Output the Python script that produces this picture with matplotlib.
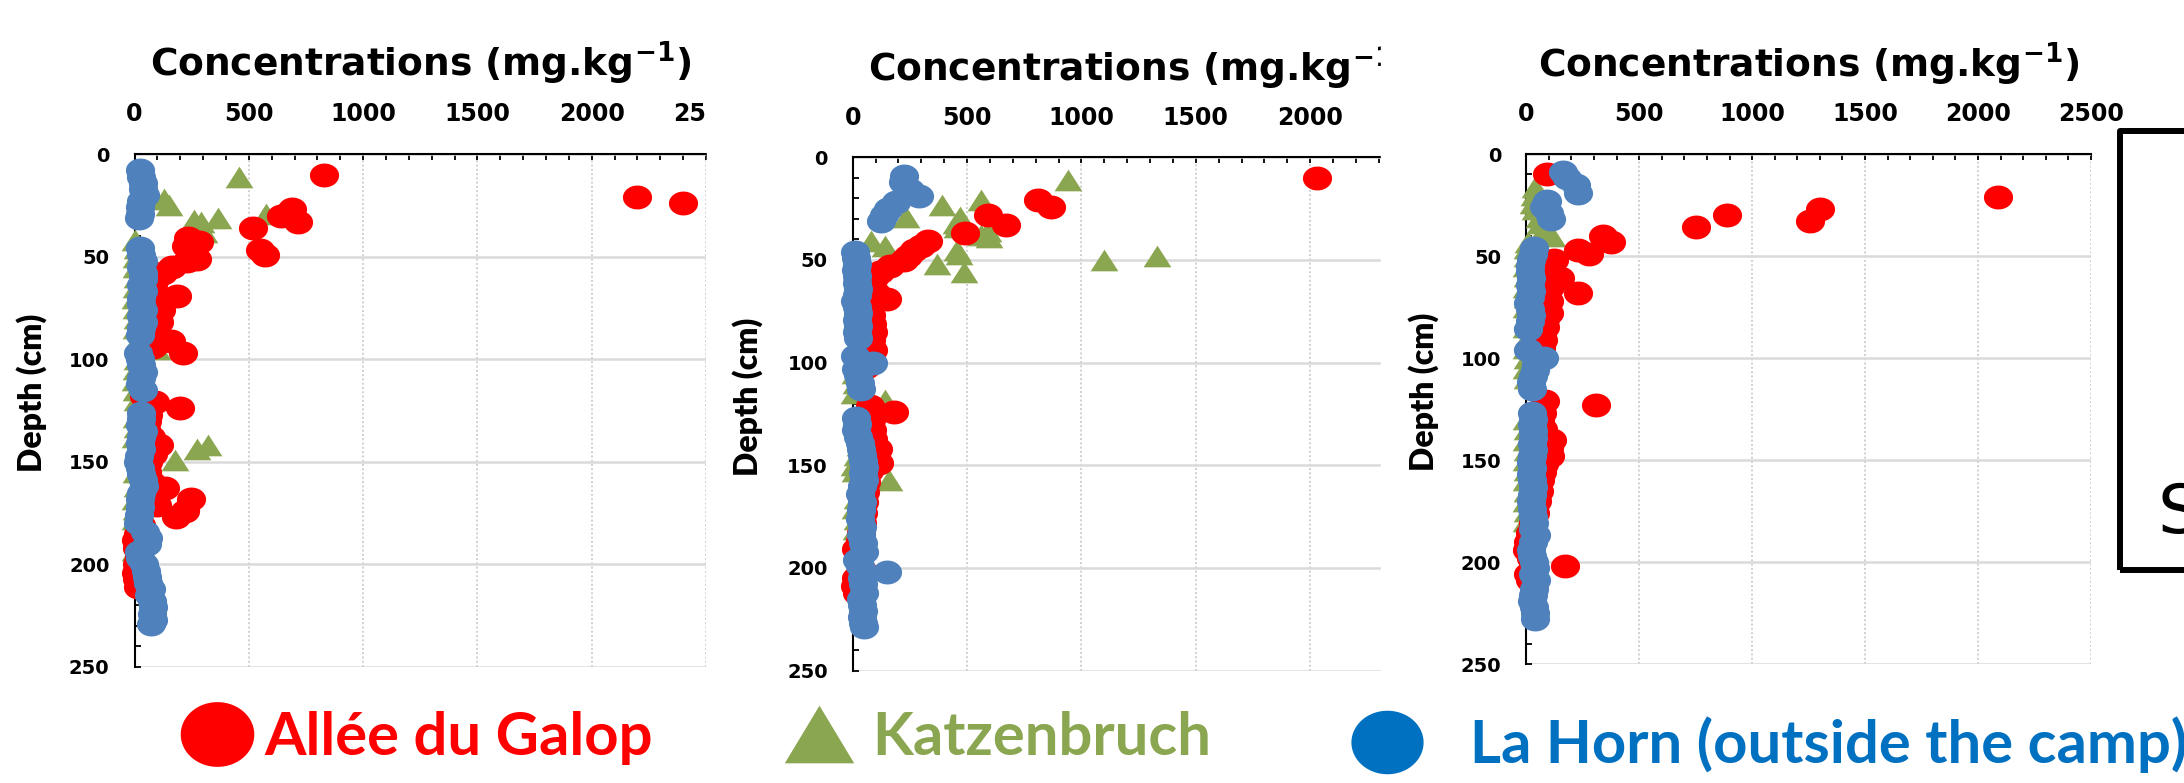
import numpy as np
import matplotlib
matplotlib.use("Agg")
import matplotlib.pyplot as plt
from matplotlib.path import Path
from matplotlib.lines import Line2D
from matplotlib.patches import Rectangle
from matplotlib.ticker import MultipleLocator

# ---- donnees (concentration mg/kg, profondeur cm) ----
# panneau 1
p1_galop_depth = [10, 21, 24, 27, 30, 33, 36, 41, 43, 45, 47, 49, 51, 52, 55, 58, 61, 64, 69, 72, 76, 79, 82, 85, 88,
                  91, 94, 97, 118, 121, 124, 127, 130, 134, 138, 142, 146, 150, 155, 160, 163, 168, 171, 174, 177,
                  181, 185, 188, 192, 196, 200, 204, 207, 211]
p1_galop_conc = [830, 2200, 2400, 690, 640, 715, 520, 235, 280, 225, 550, 570, 275, 230, 165, 125, 90, 80, 185, 80,
                 115, 95, 105, 70, 60, 160, 80, 210, 40, 90, 200, 60, 55, 50, 70, 105, 80, 60, 55, 70, 135, 245, 100,
                 220, 180, 30, 15, 5, 10, 20, 10, 5, 10, 15]
p1_katz_depth = [11, 22, 25, 29, 31, 32, 33, 38, 42, 46, 50, 55, 60, 65, 70, 75, 80, 85, 90, 95, 100, 105, 110, 115,
                 120, 128, 133, 138, 142, 144, 148, 149, 155, 162, 168, 173, 178, 183, 188, 193, 197]
p1_katz_conc = [455, 130, 150, 575, 365, 260, 290, 305, 0, 10, 5, 5, 10, 5, 0, 5, 10, 5, 15, 100, 10, 5, 0, 5,
                10, 5, 10, 0, 320, 275, 50, 175, 5, 10, 0, 5, 0, 5, 10, 0, 5]
p1_horn_depth = [8, 11, 14, 17, 20, 23, 26, 29, 31, 46, 49, 52, 55, 58, 61, 64, 67, 70, 73, 76, 79, 82, 85, 88, 97,
                 100, 103, 106, 109, 112, 115, 126, 129, 132, 135, 138, 141, 144, 147, 150, 153, 156, 159, 162, 165,
                 168, 172, 176, 180, 184, 187, 190, 194, 197, 200, 203, 206, 209, 212, 215, 218, 221, 224, 227, 229]
p1_horn_conc = [25, 30, 35, 35, 45, 30, 25, 25, 20, 25, 30, 35, 30, 35, 35, 30, 35, 30, 30, 35, 30, 35, 30, 25, 15,
                25, 30, 35, 30, 25, 35, 30, 30, 25, 35, 30, 25, 30, 20, 15, 25, 30, 35, 40, 30, 25, 25, 20, 15, 45,
                60, 55, 20, 25, 40, 50, 55, 60, 70, 65, 75, 80, 75, 80, 70]

# panneau 2
p2_galop_depth = [10, 21, 24, 28, 33, 37, 41, 43, 45, 48, 50, 53, 56, 59, 63, 66, 69, 73, 77, 81, 85, 89, 94, 98, 102,
                  121, 124, 128, 133, 137, 142, 146, 149, 153, 158, 163, 168, 173, 178, 183, 187, 191, 196, 201,
                  205, 209, 212]
p2_galop_conc = [2030, 810, 865, 590, 670, 490, 330, 300, 270, 240, 225, 165, 120, 95, 80, 100, 150, 70, 80, 85, 90,
                 80, 90, 75, 60, 75, 180, 80, 85, 90, 110, 100, 115, 70, 60, 55, 50, 45, 40, 35, 30, 15, 25, 40, 15,
                 10, 20]
p2_katz_depth = [11, 21, 23, 29, 29, 32, 34, 36, 38, 39, 41, 43, 45, 47, 48, 50, 52, 56, 60, 65, 70, 75, 80, 85, 90,
                 95, 100, 105, 110, 115, 118, 128, 133, 140, 145, 150, 153, 157, 160, 166, 171, 176, 181]
p2_katz_conc = [940, 560, 390, 470, 235, 450, 455, 590, 560, 595, 80, 140, 455, 465, 1330, 1100, 370, 485, 40, 30,
                50, 60, 70, 50, 40, 30, 20, 10, 15, 5, 140, 60, 40, 30, 20, 5, 10, 160, 40, 20, 10, 20, 15]
p2_horn_depth = [9, 12, 16, 19, 22, 25, 28, 31, 46, 49, 52, 55, 58, 61, 64, 67, 70, 73, 76, 79, 82, 85, 88, 97, 100,
                 103, 106, 110, 113, 127, 130, 133, 136, 139, 142, 145, 148, 151, 154, 157, 160, 164, 168, 172, 176,
                 180, 184, 188, 192, 196, 199, 202, 205, 208, 212, 215, 218, 221, 224, 227, 229]
p2_horn_conc = [225, 220, 250, 290, 190, 155, 135, 125, 10, 15, 20, 15, 20, 20, 25, 20, 10, 20, 25, 20, 25, 20, 25,
                10, 90, 15, 25, 30, 35, 15, 20, 15, 25, 30, 35, 40, 45, 50, 45, 50, 40, 30, 40, 35, 30, 40, 35, 45,
                50, 20, 30, 150, 40, 45, 50, 35, 40, 45, 40, 45, 50]

# panneau 3
p3_galop_depth = [10, 21, 27, 30, 33, 36, 40, 43, 47, 49, 52, 55, 58, 61, 65, 68, 72, 75, 78, 81, 85, 88, 91, 95,
                  121, 123, 127, 131, 135, 140, 144, 148, 152, 156, 160, 165, 170, 176, 181, 186, 190, 194, 198,
                  202, 206, 209]
p3_galop_conc = [90, 2090, 1300, 890, 1255, 750, 340, 375, 230, 280, 125, 110, 95, 150, 105, 230, 100, 90, 100, 85,
                 85, 70, 75, 65, 85, 310, 70, 60, 75, 115, 100, 105, 80, 70, 60, 55, 50, 40, 30, 15, 10, 5, 20, 170,
                 10, 15]
p3_katz_depth = [16, 20, 24, 27, 31, 34, 37, 40, 43, 46, 50, 55, 60, 65, 70, 75, 80, 85, 90, 95, 100, 105, 110, 130,
                 135, 140, 145, 150, 155, 160, 165, 170, 175, 180]
p3_katz_conc = [40, 35, 30, 40, 55, 60, 80, 115, 10, 5, 5, 0, 5, 0, 5, 0, 5, 0, 5, 0, 5, 0, 5, 0, 5, 0, 5, 0, 5, 0,
                5, 0, 5, 0]
p3_horn_depth = [9, 12, 15, 19, 23, 26, 29, 32, 46, 49, 52, 55, 58, 61, 64, 67, 70, 73, 76, 79, 82, 86, 96, 100, 103,
                 106, 109, 112, 115, 127, 130, 133, 136, 139, 142, 145, 148, 151, 154, 157, 160, 163, 167, 170, 174,
                 178, 181, 184, 187, 190, 194, 197, 200, 203, 206, 209, 213, 216, 219, 222, 225, 228]
p3_horn_conc = [165, 180, 220, 230, 90, 80, 100, 110, 35, 30, 20, 15, 15, 20, 15, 20, 15, 10, 15, 20, 15, 10, 10, 80,
                45, 40, 30, 20, 25, 25, 30, 25, 30, 30, 25, 30, 25, 20, 25, 20, 25, 30, 25, 20, 25, 30, 35, 30, 45,
                30, 20, 25, 35, 40, 30, 45, 35, 30, 25, 35, 40, 40]

legend_labels = ["Allée du Galop", "Katzenbruch", "La Horn (outside the camp)"]
x_ticks = [0, 500, 1000, 1500, 2000, 2500]
y_ticks = [0, 50, 100, 150, 200, 250]

RED = "#FF0000"
GREEN = "#8BA650"
BLUE = "#4F81BD"
BLUE_LEG = "#0070C0"
NARROW = ["Lato", "DejaVu Sans"]

plt.rcParams["mathtext.default"] = "bf"

W, H = 2184, 783
fig = plt.figure(figsize=(W / 100, H / 100), dpi=100)

# marqueurs d'Excel un peu ecrases
t = np.linspace(0, 2 * np.pi, 64)
ellipse = Path(np.column_stack([np.cos(t), 0.82 * np.sin(t)]), closed=True)
ellipse_leg = Path(np.column_stack([np.cos(t), 0.88 * np.sin(t)]), closed=True)
triangle = Path([(-1, -0.78), (1, -0.78), (0, 0.78), (-1, -0.78)], closed=True)
triangle_leg = Path([(-1, -0.83), (1, -0.83), (0, 0.83), (-1, -0.83)], closed=True)


def px_axes(left, right, top, bottom):
    return fig.add_axes([left / W, 1 - bottom / H, (right - left) / W, (bottom - top) / H])


def draw_panel(ax, galop, katz, horn, lab_x, lab_y, title_y):
    ax.plot(katz[0], katz[1], ls="none", marker=triangle, ms=20, color=GREEN, mew=0, clip_on=False, zorder=3)
    ax.plot(galop[0], galop[1], ls="none", marker=ellipse, ms=21, color=RED, mew=0, clip_on=False, zorder=4)
    ax.plot(horn[0], horn[1], ls="none", marker=ellipse, ms=21, color=BLUE, mew=0, clip_on=False, zorder=5)

    ax.set_xlim(0, 2500)
    ax.set_ylim(250, 0)
    ax.set_xticks(x_ticks)
    ax.set_yticks(y_ticks)
    ax.xaxis.set_minor_locator(MultipleLocator(100))
    ax.yaxis.set_minor_locator(MultipleLocator(10))
    ax.xaxis.tick_top()
    ax.tick_params(axis="x", which="both", direction="in", length=4.5, width=1.3, pad=20,
                   labelsize=17, top=True, bottom=False)
    ax.tick_params(axis="y", which="both", direction="in", length=4.5, width=1.3, pad=18,
                   labelsize=14, left=True, right=False)
    for lab in ax.get_xticklabels() + ax.get_yticklabels():
        lab.set_fontweight("bold")

    ax.set_axisbelow(True)
    ax.xaxis.grid(True, color="#D0D0D0", linestyle=(0, (1, 1.2)), linewidth=1.4)
    ax.yaxis.grid(True, color="#DADADA", linewidth=1.8)
    ax.spines["right"].set_visible(False)
    ax.spines["bottom"].set_visible(False)
    ax.spines["left"].set_linewidth(1.5)
    ax.spines["top"].set_linewidth(1.5)

    ax.set_ylabel("Depth (cm)", fontsize=23, fontweight="heavy", family=NARROW)
    ax.yaxis.set_label_coords(lab_x, lab_y)
    ax.text(0.5, title_y, "Concentrations (mg.kg$^{-1}$)", transform=ax.transAxes, ha="center",
            va="baseline", fontsize=27, fontweight="bold")


ax1 = px_axes(134.5, 706, 154, 667)
ax2 = px_axes(852.7, 1424.5, 157.3, 670.6)
ax3 = px_axes(1526.2, 2091, 154, 664)
ax2.set_zorder(2)
ax3.set_zorder(4)

draw_panel(ax1, (p1_galop_conc, p1_galop_depth), (p1_katz_conc, p1_katz_depth), (p1_horn_conc, p1_horn_depth),
           -0.153, 0.534, 1.152)
draw_panel(ax2, (p2_galop_conc, p2_galop_depth), (p2_katz_conc, p2_katz_depth), (p2_horn_conc, p2_horn_depth),
           -0.157, 0.533, 1.149)
draw_panel(ax3, (p3_galop_conc, p3_galop_depth), (p3_katz_conc, p3_katz_depth), (p3_horn_conc, p3_horn_depth),
           -0.154, 0.533, 1.152)

# les deux premiers graphiques sont coupes a droite
fig.add_artist(Rectangle((707 / W, 0), 40 / W, 1, transform=fig.transFigure, color="white", zorder=1))
fig.add_artist(Rectangle((1381 / W, 0), 120 / W, 1, transform=fig.transFigure, color="white", zorder=3))

# cadre coupe a droite
fig.add_artist(Rectangle((2120 / W, 1 - 569.5 / H), 120 / W, 438.5 / H, transform=fig.transFigure, fill=False,
                         edgecolor="black", linewidth=4.3, joinstyle="round", zorder=5))
fig.text(2158 / W, 1 - 533 / H, "S", fontsize=49, ha="left", va="baseline")

# legende
keys = [
    (Line2D([], [], ls="none", marker=ellipse_leg, ms=53, color=RED, mew=0), legend_labels[0], RED, 181, 738, 0.2),
    (Line2D([], [], ls="none", marker=triangle_leg, ms=50, color=GREEN, mew=0), legend_labels[1], GREEN, 783, 738, 0.3),
    (Line2D([], [], ls="none", marker=ellipse_leg, ms=52, color=BLUE_LEG, mew=0), legend_labels[2], BLUE_LEG, 1351, 745, 0.8),
]
for handle, text, col, x0, y0, pad in keys:
    fig.legend(handles=[handle], labels=[text], loc="center left", bbox_to_anchor=(x0 / W, 1 - y0 / H),
               frameon=False, borderpad=0, borderaxespad=0, handlelength=1.2, handletextpad=pad,
               prop={"family": NARROW, "weight": "bold", "size": 43}, labelcolor=col)

fig.savefig("out.png", dpi=100)
